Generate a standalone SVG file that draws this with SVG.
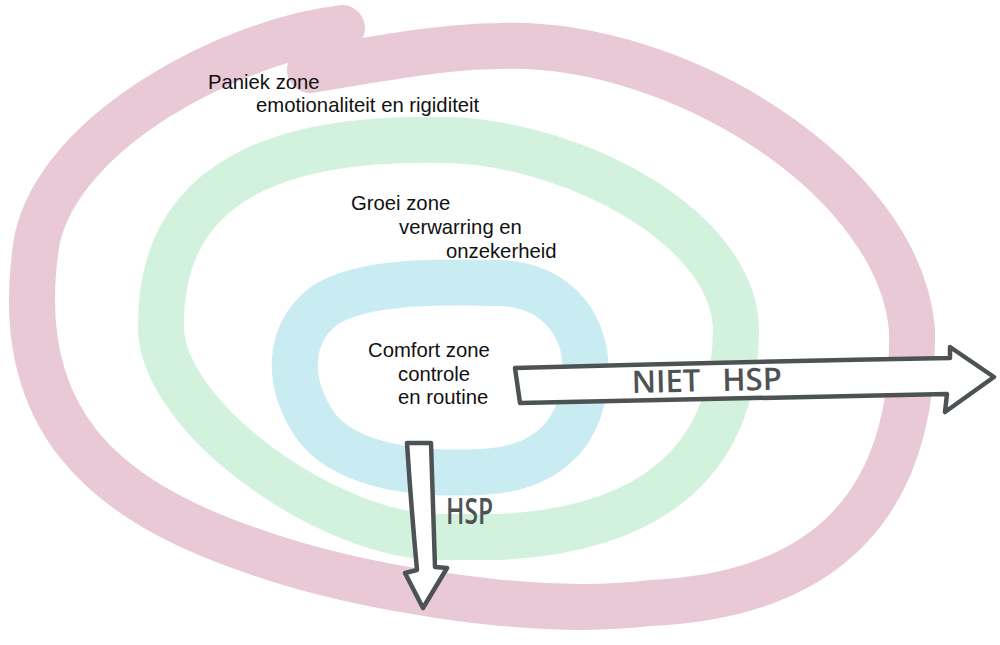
<svg xmlns="http://www.w3.org/2000/svg" width="1000" height="645" viewBox="0 0 1000 645">
<style>
.band{fill:none;stroke-width:46;stroke-linecap:round;stroke-linejoin:round}
.pink{stroke:#e9c9d6}
.green{stroke:#d3f2dd}
.blue{stroke:#c9ecf2}
.lbl{font-family:"Liberation Sans",Arial,sans-serif;font-size:20.3px;fill:#111}
.arrow{fill:#fff;stroke:#4d5355;stroke-width:4.5;stroke-linejoin:round;stroke-linecap:round}
.hand{font-family:"Open Sans","DejaVu Sans Condensed",sans-serif;font-weight:600;fill:#4d5355}
</style>
<rect width="1000" height="645" fill="#fff"/>
<g id="zone-paniek">
<path class="band pink" d="M342,28 C232,41 60,130 37,240 C8,420 105,500 250,550 C350,586 530,618 650,603 C830,595 915,500 912,330 C900,180 680,40 500,46 C440,46 360,62 310,70"/>
</g>
<g id="zone-groei">
<path class="band green" d="M440,537 C330,537 165,420 161,330 C158,180 280,135 450,140 C580,145 735,230 736,330 C735,470 640,530 500,537 L430,537"/>
</g>
<g id="zone-comfort">
<path class="band blue" d="M500,283 C560,285 590,330 585,380 C580,440 540,470 480,472 C400,476 340,460 315,425 C288,385 285,335 325,305 C365,280 440,282 500,283 Z"/>
</g>
<g id="labels">
<text class="lbl" x="208" y="89">Paniek zone</text>
<text class="lbl" x="256" y="112">emotionaliteit en rigiditeit</text>
<text class="lbl" x="351" y="210">Groei zone</text>
<text class="lbl" x="399" y="234">verwarring en</text>
<text class="lbl" x="446" y="258">onzekerheid</text>
<text class="lbl" x="368" y="357">Comfort zone</text>
<text class="lbl" x="398" y="381">controle</text>
<text class="lbl" x="398" y="404">en routine</text>
</g>
<g id="connectors">
<g id="arrow-niet-hsp">
<path class="arrow" d="M515,368 Q730,362 950,358 L950,347 L994,377 L945,412 L947,394 Q730,398 520,403 Z"/>
<text class="hand" x="632" y="393" font-size="31" textLength="150" lengthAdjust="spacingAndGlyphs" word-spacing="14" transform="rotate(-1.3 632 393)">NIET HSP</text>
</g>
<g id="arrow-hsp">
<path class="arrow" d="M407,443 L431,443 Q433,505 435,567 L447,568 L423,608 L405,573 L417,570 Q411,505 407,443 Z"/>
<text class="hand" x="446" y="524" font-size="36" textLength="47" lengthAdjust="spacingAndGlyphs">HSP</text>
</g>
</g>
</svg>
